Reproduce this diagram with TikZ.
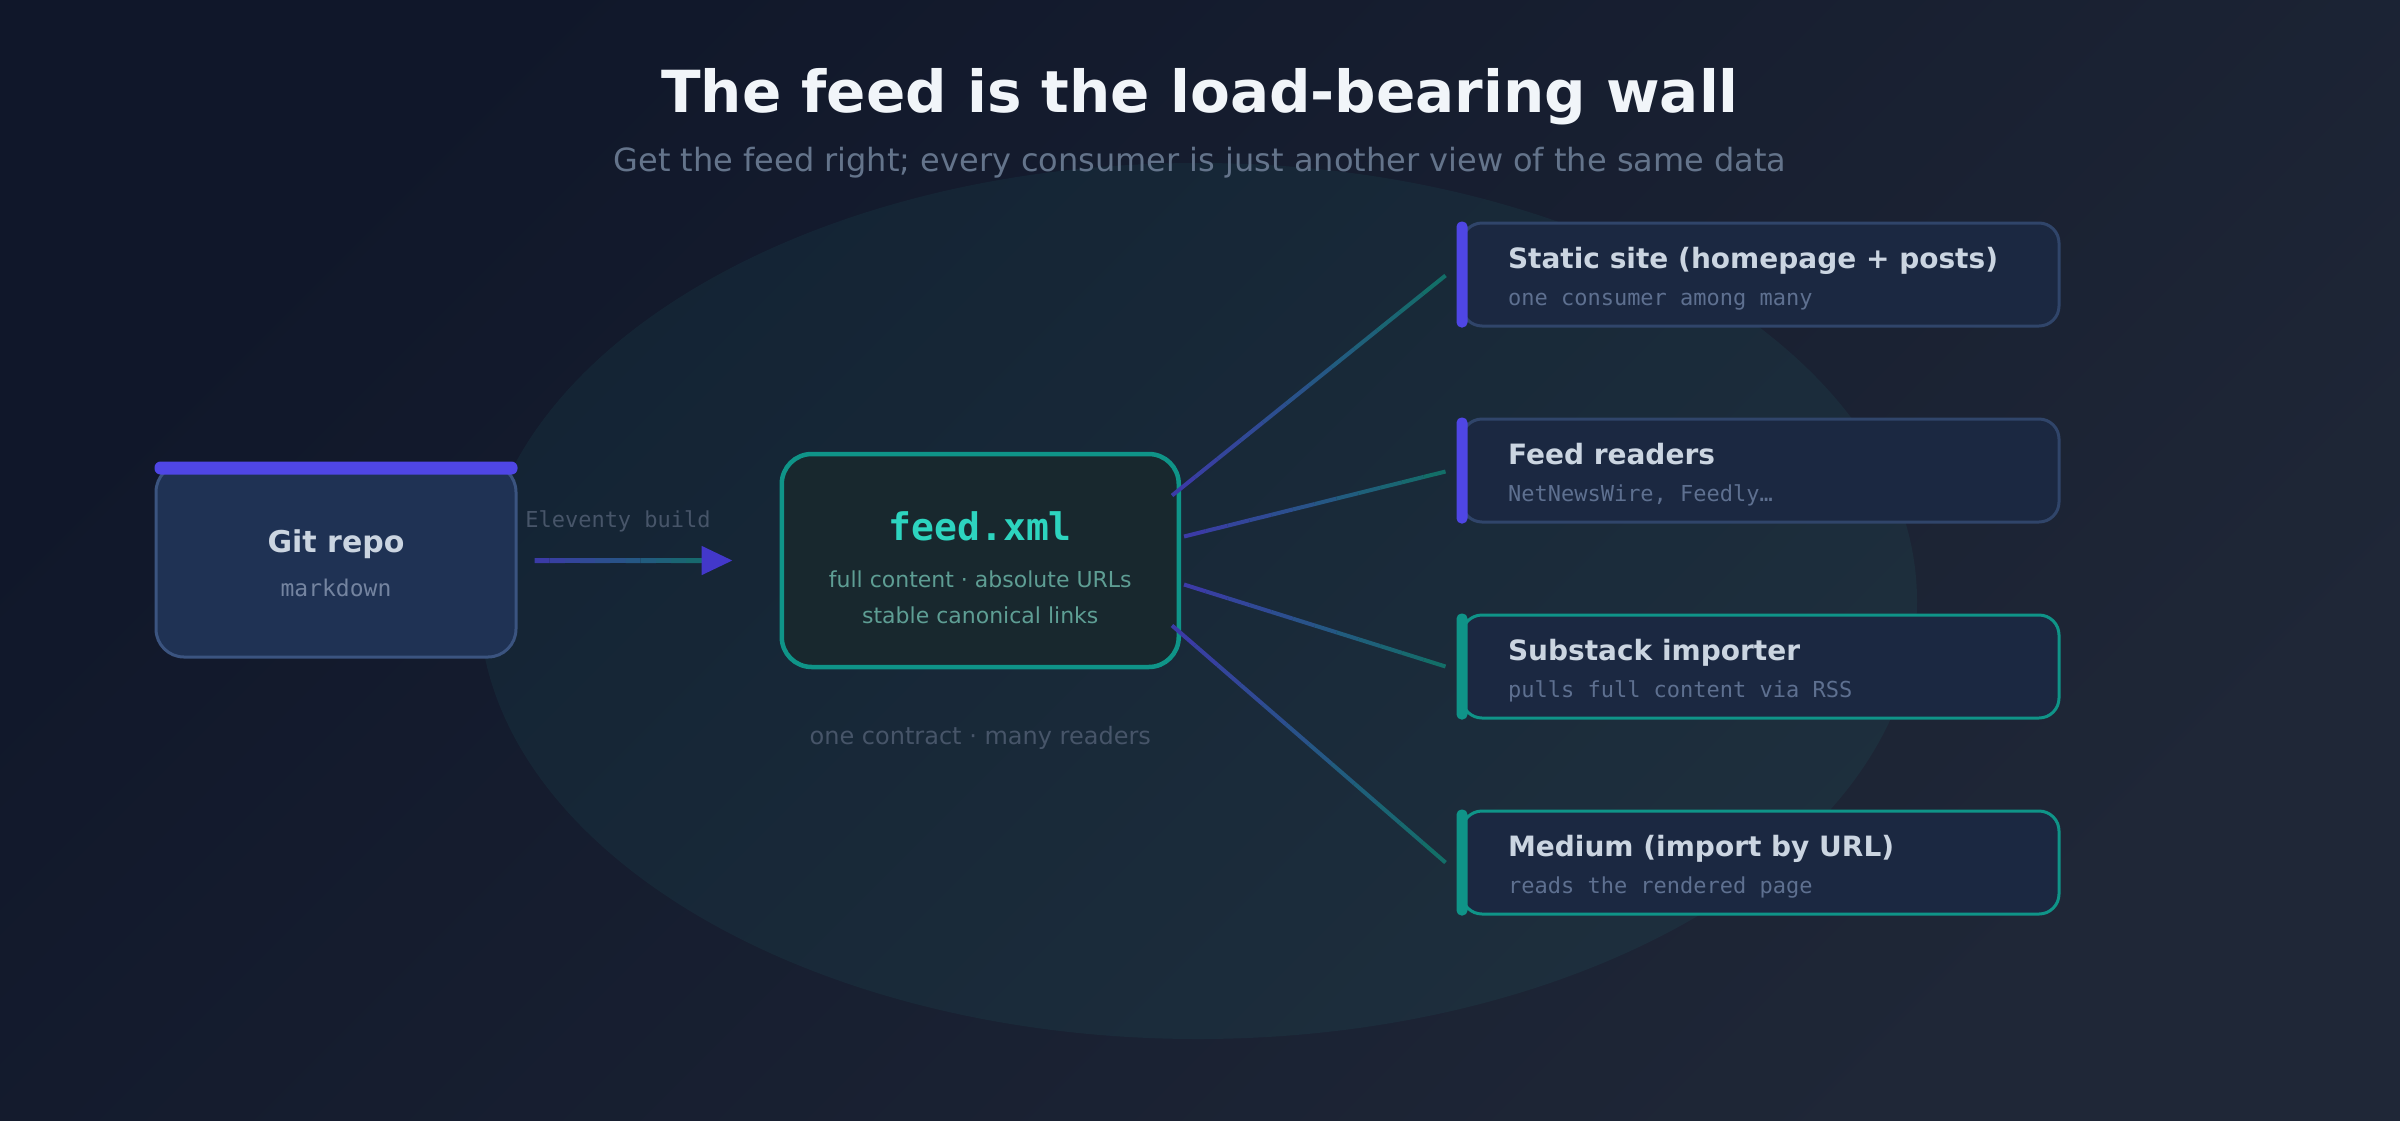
\documentclass[tikz,border=0pt]{standalone}
\usepackage{fontspec}
\setmainfont{DejaVu Sans}
\setmonofont{DejaVu Sans Mono}
\usetikzlibrary{calc, positioning, arrows.meta, backgrounds}
\definecolor{bgtop}{HTML}{10172A}
\definecolor{bgbot}{HTML}{1F2737}
\definecolor{halo}{HTML}{2DD4BF}
\definecolor{gitfill}{HTML}{1F3254}
\definecolor{gitedge}{HTML}{3B5480}
\definecolor{indigo}{HTML}{4F46E5}
\definecolor{tipindigo}{HTML}{4338CA}
\definecolor{lineindigo}{HTML}{3B3BA6}
\definecolor{lineteal}{HTML}{136E68}
\definecolor{feedfill}{HTML}{18282E}
\definecolor{teal}{HTML}{0F9488}
\definecolor{feedtext}{HTML}{2DD4BF}
\definecolor{feednote}{HTML}{5E9E94}
\definecolor{consfill}{HTML}{1B2841}
\definecolor{consedge}{HTML}{30456A}
\definecolor{lighttext}{HTML}{CBD5E1}
\definecolor{notetext}{HTML}{5E7090}
\definecolor{dimtext}{HTML}{475569}
\definecolor{subtext}{HTML}{64748B}
\definecolor{titletext}{HTML}{F1F5F9}
\tikzset{srcbox/.style={draw=gitedge, fill=gitfill, line width=3pt, rounded corners=28pt, minimum width=360pt, minimum height=193pt}}
\tikzset{feedbox/.style={draw=teal, fill=feedfill, line width=4.5pt, rounded corners=30pt, minimum width=397pt, minimum height=213pt}}
\tikzset{consumer/.style={fill=consfill, line width=3pt, rounded corners=20pt, minimum width=597pt, minimum height=103pt}}
\tikzset{ctitle/.style={anchor=base west, text=lighttext, font=\bfseries\fontsize{28}{34}\selectfont}}
\tikzset{cnote/.style={anchor=base west, text=notetext, font=\ttfamily\fontsize{22}{26}\selectfont}}
% line that fades from indigo to teal
\newcommand{\fadeline}[3]{%
  \foreach \k in {0,...,11}{
    \pgfmathsetmacro{\pa}{\k/12}
    \pgfmathsetmacro{\pb}{(\k+1)/12}
    \pgfmathtruncatemacro{\mix}{100-\k*100/11}
    \draw[line width=#3, color=lineindigo!\mix!lineteal] ($(#1)!\pa!(#2)$) -- ($(#1)!\pb!(#2)$);
  }}

\begin{document}
\begin{tikzpicture}[x=1pt, y=-1pt]
\useasboundingbox (0,0) rectangle (2400,1120);
\shade[top color=bgtop, bottom color=bgbot, shading angle=45] (0,0) rectangle (2400,1120);
\fill[halo, opacity=0.06] (1198,601) ellipse [x radius=719pt, y radius=438pt];

\node[anchor=base, text=titletext, font=\bfseries\fontsize{58}{70}\selectfont] (title) at (1200,112) {The feed is the load-bearing wall};
\node[anchor=base, text=subtext, font=\fontsize{32}{38}\selectfont] (subtitle) at (1200,171) {Get the feed right; every consumer is just another view of the same data};

% source
\node[srcbox] (git) at (336,560.5) {};
\fill[indigo, rounded corners=6pt] ($(git.north west)+(0,-1)$) rectangle ($(git.north east)+(0,12)$);
\node[anchor=base, text=lighttext, font=\bfseries\fontsize{30}{36}\selectfont] (gitname) at ($(git.north)+(0,90)$) {Git repo};
\node[anchor=base, text=notetext!80!lighttext, font=\ttfamily\fontsize{23}{28}\selectfont] (gitnote) at ($(git.north)+(0,134)$) {markdown};

% feed with glow
\node[feedbox, right = 262pt of git] (feed) {};
\begin{scope}[on background layer]
  \foreach \w/\o in {34/0.03, 26/0.04, 18/0.05, 11/0.07} {
    \draw[halo, line width=\w pt, opacity=\o, rounded corners=30pt] (feed.north west) rectangle (feed.south east);
  }
\end{scope}
\node[anchor=base, text=feedtext, font=\ttfamily\bfseries\fontsize{38}{44}\selectfont] (feedname) at ($(feed.north)+(0,89)$) {feed.xml};
\node[anchor=base, text=feednote, font=\fontsize{22}{26}\selectfont] (feedl1) at ($(feed.north)+(0,136)$) {full content · absolute URLs};
\node[anchor=base, text=feednote, font=\fontsize{22}{26}\selectfont] (feedl2) at ($(feed.north)+(0,172)$) {stable canonical links};
\node[anchor=base, text=dimtext, font=\fontsize{24}{28}\selectfont] (contract) at ($(feed.north)+(0,293)$) {one contract · many readers};

% build arrow
\node[anchor=base, text=dimtext, font=\ttfamily\fontsize{22}{26}\selectfont] (build) at (618,527) {Eleventy build};
\coordinate (a0) at ($(git.east)+(17,0)$);
\coordinate (a1) at ($(feed.west)+(-63,0)$);
\fadeline{a0}{a1}{5pt}
\draw[line width=5pt, lineteal, -{Triangle[length=31pt, width=28pt, color=tipindigo]}] (a1) -- ($(feed.west)+(-47,0)$);

% consumers
\node[consumer, draw=consedge] (s1) at (1760.5,274.5) {};
\node[consumer, draw=consedge, below = 90pt of s1] (s2) {};
\node[consumer, draw=teal, below = 90pt of s2] (s3) {};
\node[consumer, draw=teal, below = 90pt of s3] (s4) {};
\fill[indigo, rounded corners=5pt] ($(s1.north west)+(-4,0)$) rectangle ($(s1.south west)+(7,0)$);
\fill[indigo, rounded corners=5pt] ($(s2.north west)+(-4,0)$) rectangle ($(s2.south west)+(7,0)$);
\fill[teal, rounded corners=5pt] ($(s3.north west)+(-4,0)$) rectangle ($(s3.south west)+(7,0)$);
\fill[teal, rounded corners=5pt] ($(s4.north west)+(-4,0)$) rectangle ($(s4.south west)+(7,0)$);

\node[ctitle] (t1) at ($(s1.north west)+(44,47)$) {Static site (homepage + posts)};
\node[cnote] (n1) at ($(s1.north west)+(44,84)$) {one consumer among many};
\node[ctitle] (t2) at ($(s2.north west)+(44,47)$) {Feed readers};
\node[cnote] (n2) at ($(s2.north west)+(44,84)$) {NetNewsWire, Feedly…};
\node[ctitle] (t3) at ($(s3.north west)+(44,47)$) {Substack importer};
\node[cnote] (n3) at ($(s3.north west)+(44,84)$) {pulls full content via RSS};
\node[ctitle] (t4) at ($(s4.north west)+(44,47)$) {Medium (import by URL)};
\node[cnote] (n4) at ($(s4.north west)+(44,84)$) {reads the rendered page};

% fan out
\coordinate (f1) at ($(feed.east)+(-9,-65)$);
\coordinate (f2) at ($(feed.east)+(3,-24)$);
\coordinate (f3) at ($(feed.east)+(3,24)$);
\coordinate (f4) at ($(feed.east)+(-9,65)$);
\coordinate (e1) at ($(s1.west)+(-15,1)$);
\coordinate (e2) at ($(s2.west)+(-15,1)$);
\coordinate (e3) at ($(s3.west)+(-15,0)$);
\coordinate (e4) at ($(s4.west)+(-15,0)$);
\fadeline{f1}{e1}{4pt}
\fadeline{f2}{e2}{4pt}
\fadeline{f3}{e3}{4pt}
\fadeline{f4}{e4}{4pt}
\end{tikzpicture}
\end{document}
